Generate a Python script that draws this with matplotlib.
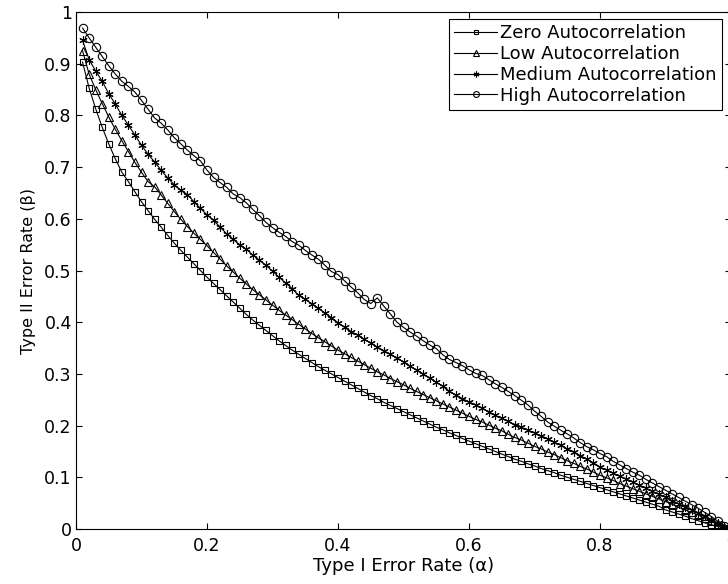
"""
Type I vs Type II error rate curves for different autocorrelation levels.
"""
import matplotlib
matplotlib.use("Agg")
import matplotlib.pyplot as plt

# nominal type I error levels (alpha)
alpha = [0.01, 0.02, 0.03, 0.04, 0.05, 0.06, 0.07, 0.08, 0.09, 0.10,
         0.11, 0.12, 0.13, 0.14, 0.15, 0.16, 0.17, 0.18, 0.19, 0.20,
         0.21, 0.22, 0.23, 0.24, 0.25, 0.26, 0.27, 0.28, 0.29, 0.30,
         0.31, 0.32, 0.33, 0.34, 0.35, 0.36, 0.37, 0.38, 0.39, 0.40,
         0.41, 0.42, 0.43, 0.44, 0.45, 0.46, 0.47, 0.48, 0.49, 0.50,
         0.51, 0.52, 0.53, 0.54, 0.55, 0.56, 0.57, 0.58, 0.59, 0.60,
         0.61, 0.62, 0.63, 0.64, 0.65, 0.66, 0.67, 0.68, 0.69, 0.70,
         0.71, 0.72, 0.73, 0.74, 0.75, 0.76, 0.77, 0.78, 0.79, 0.80,
         0.81, 0.82, 0.83, 0.84, 0.85, 0.86, 0.87, 0.88, 0.89, 0.90,
         0.91, 0.92, 0.93, 0.94, 0.95, 0.96, 0.97, 0.98, 0.99]

beta_zero = [0.903, 0.853, 0.813, 0.777, 0.745, 0.716, 0.690, 0.672, 0.652, 0.633,
             0.616, 0.599, 0.584, 0.568, 0.553, 0.539, 0.526, 0.513, 0.500, 0.487,
             0.475, 0.463, 0.451, 0.439, 0.427, 0.415, 0.404, 0.394, 0.384, 0.374,
             0.364, 0.355, 0.346, 0.338, 0.330, 0.322, 0.314, 0.307, 0.300, 0.293,
             0.286, 0.279, 0.272, 0.265, 0.258, 0.252, 0.245, 0.239, 0.233, 0.227,
             0.221, 0.215, 0.209, 0.203, 0.197, 0.192, 0.186, 0.181, 0.175, 0.170,
             0.165, 0.160, 0.155, 0.150, 0.145, 0.140, 0.135, 0.131, 0.126, 0.122,
             0.117, 0.113, 0.109, 0.104, 0.100, 0.096, 0.092, 0.088, 0.084, 0.080,
             0.076, 0.072, 0.068, 0.064, 0.060, 0.056, 0.052, 0.048, 0.044, 0.037,
             0.033, 0.029, 0.025, 0.020, 0.016, 0.012, 0.008, 0.005, 0.002]

beta_low = [0.925, 0.880, 0.850, 0.823, 0.797, 0.773, 0.751, 0.730, 0.709, 0.690,
            0.672, 0.662, 0.646, 0.630, 0.614, 0.599, 0.585, 0.572, 0.560, 0.548,
            0.535, 0.522, 0.509, 0.497, 0.485, 0.474, 0.463, 0.453, 0.443, 0.433,
            0.423, 0.414, 0.405, 0.396, 0.387, 0.378, 0.370, 0.362, 0.354, 0.346,
            0.339, 0.332, 0.325, 0.318, 0.311, 0.304, 0.298, 0.291, 0.285, 0.279,
            0.272, 0.266, 0.260, 0.254, 0.248, 0.242, 0.236, 0.230, 0.224, 0.218,
            0.212, 0.207, 0.201, 0.195, 0.190, 0.183, 0.177, 0.172, 0.166, 0.160,
            0.155, 0.149, 0.144, 0.138, 0.132, 0.127, 0.121, 0.116, 0.110, 0.104,
            0.099, 0.094, 0.088, 0.083, 0.078, 0.073, 0.068, 0.063, 0.058, 0.053,
            0.048, 0.042, 0.037, 0.032, 0.027, 0.021, 0.015, 0.009, 0.004]

beta_medium = [0.945, 0.908, 0.886, 0.866, 0.842, 0.822, 0.800, 0.781, 0.762, 0.742,
               0.725, 0.710, 0.694, 0.679, 0.666, 0.655, 0.647, 0.633, 0.620, 0.608,
               0.597, 0.584, 0.571, 0.560, 0.550, 0.541, 0.530, 0.520, 0.510, 0.499,
               0.487, 0.476, 0.465, 0.452, 0.444, 0.436, 0.427, 0.418, 0.409, 0.399,
               0.390, 0.382, 0.375, 0.367, 0.360, 0.352, 0.345, 0.338, 0.331, 0.323,
               0.315, 0.307, 0.300, 0.292, 0.284, 0.276, 0.266, 0.259, 0.252, 0.246,
               0.240, 0.234, 0.227, 0.220, 0.214, 0.208, 0.202, 0.197, 0.191, 0.186,
               0.180, 0.175, 0.168, 0.162, 0.155, 0.149, 0.142, 0.135, 0.128, 0.120,
               0.114, 0.108, 0.102, 0.097, 0.091, 0.085, 0.079, 0.073, 0.067, 0.061,
               0.055, 0.049, 0.043, 0.037, 0.031, 0.025, 0.018, 0.011, 0.004]

beta_high = [0.969, 0.950, 0.932, 0.914, 0.896, 0.880, 0.866, 0.856, 0.845, 0.829,
             0.812, 0.795, 0.785, 0.772, 0.757, 0.745, 0.733, 0.722, 0.712, 0.694,
             0.680, 0.670, 0.661, 0.648, 0.641, 0.631, 0.618, 0.606, 0.593, 0.583,
             0.574, 0.566, 0.556, 0.549, 0.539, 0.530, 0.522, 0.510, 0.498, 0.492,
             0.480, 0.468, 0.457, 0.444, 0.436, 0.447, 0.431, 0.416, 0.400, 0.390,
             0.381, 0.373, 0.364, 0.356, 0.349, 0.337, 0.328, 0.322, 0.316, 0.308,
             0.301, 0.297, 0.289, 0.281, 0.274, 0.266, 0.258, 0.249, 0.240, 0.228,
             0.218, 0.207, 0.199, 0.191, 0.184, 0.176, 0.167, 0.159, 0.153, 0.146,
             0.140, 0.131, 0.124, 0.117, 0.110, 0.104, 0.096, 0.089, 0.082, 0.075,
             0.068, 0.061, 0.054, 0.047, 0.040, 0.032, 0.024, 0.015, 0.006]

series_labels = ["Zero Autocorrelation", "Low Autocorrelation",
                 "Medium Autocorrelation", "High Autocorrelation"]
x_ticks = [0, 0.2, 0.4, 0.6, 0.8, 1]
x_tick_labels = ["0", "0.2", "0.4", "0.6", "0.8", "1"]
y_ticks = [0, 0.1, 0.2, 0.3, 0.4, 0.5, 0.6, 0.7, 0.8, 0.9, 1]
y_tick_labels = ["0", "0.1", "0.2", "0.3", "0.4", "0.5", "0.6", "0.7", "0.8", "0.9", "1"]


def plot_error_rates():
    plt.rcParams["font.family"] = "DejaVu Sans"
    fig = plt.figure(figsize=(7.28, 5.84), dpi=100)
    # axes run past the right edge of the picture, like the original crop
    ax = fig.add_axes([76 / 728, 55 / 584, 655 / 728, 517 / 584])

    markers = {"Zero Autocorrelation": ("s", 4.6),
               "Low Autocorrelation": ("^", 6.0),
               "Medium Autocorrelation": ((6, 2, 0), 6.0),
               "High Autocorrelation": ("o", 6.0)}
    all_betas = [beta_zero, beta_low, beta_medium, beta_high]

    for label, beta in zip(series_labels, all_betas):
        marker, size = markers[label]
        ax.plot(alpha, beta, color="black", linewidth=0.8, marker=marker,
                markersize=size, markerfacecolor="none", markeredgecolor="black",
                markeredgewidth=0.8, label=label)

    ax.set_xlim(0, 1)
    ax.set_ylim(0, 1)
    ax.set_xticks(x_ticks)
    ax.set_xticklabels(x_tick_labels)
    ax.set_yticks(y_ticks)
    ax.set_yticklabels(y_tick_labels)
    ax.tick_params(direction="in", length=4.5, width=0.8, top=True, right=True,
                   labelsize=12.5, colors="black")
    ax.tick_params(axis="x", pad=6)
    ax.tick_params(axis="y", pad=3)
    for spine in ax.spines.values():
        spine.set_linewidth(0.8)

    ax.set_xlabel("Type I Error Rate (\u03b1)", fontsize=13, labelpad=1)
    ax.set_ylabel("Type II Error Rate (\u03b2)", fontsize=11.5, labelpad=6)

    leg = ax.legend(loc="upper right", bbox_to_anchor=(722 / 728, 1 - 19 / 584),
                    bbox_transform=fig.transFigure, fontsize=13, frameon=True,
                    fancybox=False, framealpha=1, edgecolor="black",
                    borderpad=0.3, labelspacing=0.15, handlelength=2.4,
                    handletextpad=0.15, borderaxespad=0, markerscale=0.7)
    leg.get_frame().set_linewidth(0.8)

    fig.savefig("out.png", dpi=100)


if __name__ == "__main__":
    plot_error_rates()
